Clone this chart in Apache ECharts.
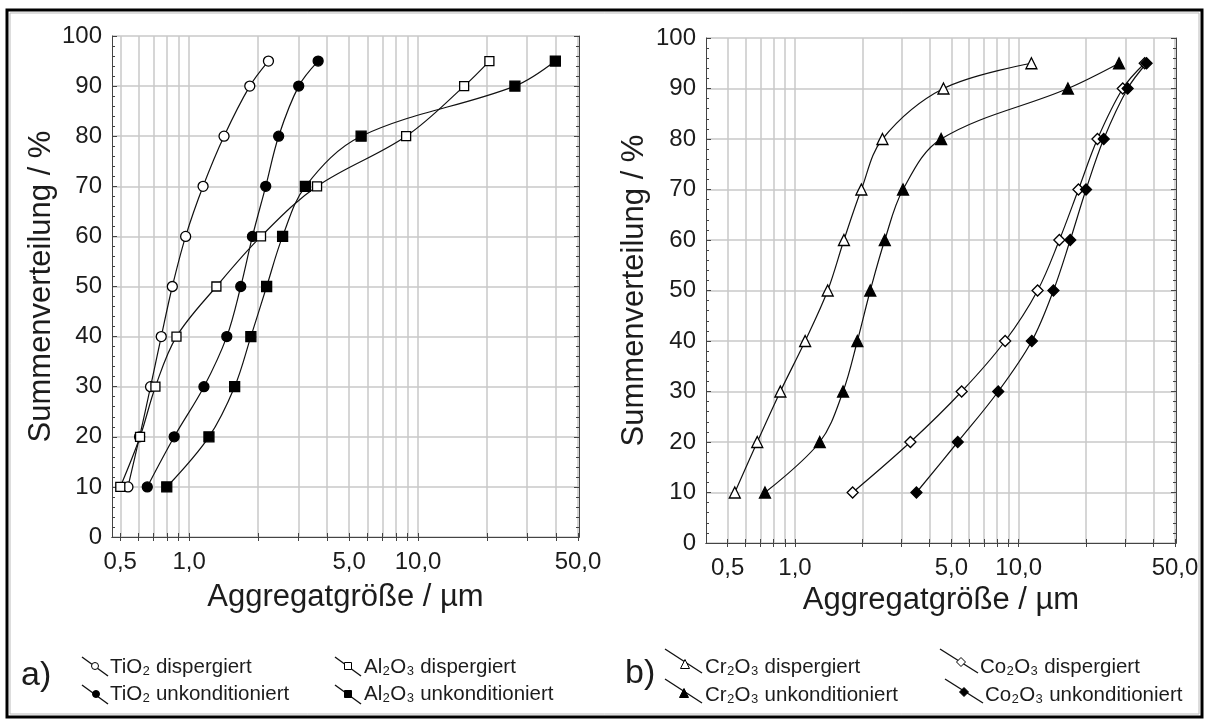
<!DOCTYPE html>
<html>
<head>
<meta charset="UTF-8">
<title>Summenverteilung</title>
<script src="https://cdn.jsdelivr.net/npm/echarts@6/dist/echarts.min.js"></script>
<style>
html, body { margin: 0; padding: 0; background: #fff; }
#chart { width: 1207px; height: 720px; }
</style>
</head>
<body>
<div id="chart"></div>
<script>
// Summenverteilung / % (gleich fuer alle Kurven)
var pct = [10, 20, 30, 40, 50, 60, 70, 80, 90, 95];

// a) Aggregatgroesse / um
var tio2Disp  = [0.54, 0.607, 0.678, 0.755, 0.844, 0.965, 1.15, 1.42, 1.84, 2.22];
var tio2Unk   = [0.656, 0.86, 1.16, 1.46, 1.68, 1.89, 2.16, 2.46, 3.01, 3.66];
var al2o3Disp = [0.50, 0.61, 0.712, 0.88, 1.315, 2.06, 3.62, 8.87, 15.9, 20.5];
var al2o3Unk  = [0.798, 1.22, 1.58, 1.86, 2.18, 2.56, 3.22, 5.64, 26.5, 39.8];

// b) Aggregatgroesse / um
var cr2o3Disp = [0.538, 0.678, 0.86, 1.11, 1.40, 1.655, 1.98, 2.46, 4.61, 11.4];
var cr2o3Unk  = [0.734, 1.29, 1.64, 1.90, 2.17, 2.52, 3.04, 4.50, 16.6, 28.1];
var co2o3Disp = [1.81, 3.28, 5.56, 8.70, 12.15, 15.2, 18.5, 22.5, 29.2, 36.6];
var co2o3Unk  = [3.49, 5.34, 8.10, 11.45, 14.3, 17.0, 20.0, 24.0, 30.7, 37.3];

// Achsen
var xLabelVals = [0.5, 1, 5, 10, 50];
var xGridVals = [0.5, 0.6, 0.7, 0.8, 0.9, 1, 2, 3, 4, 5, 6, 7, 8, 9, 10, 20, 30, 40, 50];

var chart = echarts.init(document.getElementById('chart'));
var font = 'Liberation Sans, Arial, sans-serif';
var txt = '#1c1c1c';

function pairs(xs) {
  return xs.map(function (x, i) { return [x, pct[i]]; });
}

function bottomX(grid, min, gap) {
  return {
    type: 'log', logBase: 10, gridIndex: grid, min: min, max: 50.5,
    name: 'Aggregatgröße / µm', nameLocation: 'middle', nameGap: gap,
    nameTextStyle: { fontFamily: font, fontSize: 31, color: txt },
    axisLine: { show: true, lineStyle: { color: '#444', width: 1 } },
    axisTick: { show: true, inside: true, length: 4, customValues: xGridVals, lineStyle: { color: '#444' } },
    minorTick: { show: false },
    axisLabel: {
      customValues: xLabelVals, margin: 13, fontFamily: font, fontSize: 24, color: txt,
      formatter: function (v) { return (Math.round(v * 10) / 10).toFixed(1).replace('.', ','); }
    },
    splitLine: { show: true, lineStyle: { color: '#c8c8c8', width: 1.5 } }
  };
}

function topX(grid, min) {
  return {
    type: 'log', logBase: 10, gridIndex: grid, min: min, max: 50.5, position: 'top',
    axisLine: { show: true, lineStyle: { color: '#444', width: 1 } },
    axisTick: { show: true, inside: true, length: 4, customValues: xGridVals, lineStyle: { color: '#444' } },
    axisLabel: { show: false },
    splitLine: { show: false }
  };
}

function leftY(grid, gap) {
  return {
    type: 'value', gridIndex: grid, min: 0, max: 100, interval: 10,
    name: 'Summenverteilung / %', nameLocation: 'middle', nameGap: gap,
    nameTextStyle: { fontFamily: font, fontSize: 31, color: txt },
    axisLine: { show: true, lineStyle: { color: '#444', width: 1 } },
    axisTick: { show: true, inside: true, length: 5, lineStyle: { color: '#444' } },
    minorTick: { show: true, splitNumber: 5, length: 3, lineStyle: { color: '#444' } },
    axisLabel: { margin: 10, fontFamily: font, fontSize: 24, color: txt },
    splitLine: { show: true, lineStyle: { color: '#c8c8c8', width: 1.5 } }
  };
}

function rightY(grid) {
  return {
    type: 'value', gridIndex: grid, min: 0, max: 100, interval: 10, position: 'right',
    axisLine: { show: true, lineStyle: { color: '#444', width: 1 } },
    axisTick: { show: true, inside: true, length: 5, lineStyle: { color: '#444' } },
    minorTick: { show: true, splitNumber: 5, length: 3, lineStyle: { color: '#444' } },
    axisLabel: { show: false },
    splitLine: { show: false }
  };
}

function curve(name, xs, axis, symbol, size, filled) {
  return {
    name: name, type: 'line', xAxisIndex: axis, yAxisIndex: axis,
    data: pairs(xs), smooth: 0.35, symbol: symbol, symbolSize: size,
    showAllSymbol: true, animation: false,
    lineStyle: { color: '#111', width: 1.2 },
    itemStyle: { color: filled ? '#000' : '#fff', borderColor: '#000', borderWidth: 1.3 }
  };
}

// Legende: schraeger Strich + Symbol + Text
function legendItem(x1, y1, x2, y2, mx, my, shape, size, filled, label, tx, ty) {
  var st = { fill: filled ? '#000' : '#fff', stroke: '#000', lineWidth: 1 };
  var mark;
  var h = size / 2;
  if (shape === 'circle') {
    mark = { type: 'circle', shape: { cx: mx, cy: my, r: h }, style: st };
  } else if (shape === 'rect') {
    mark = { type: 'rect', shape: { x: mx - h, y: my - h, width: size, height: size }, style: st };
  } else if (shape === 'triangle') {
    mark = { type: 'polygon', shape: { points: [[mx, my - h], [mx + h, my + h], [mx - h, my + h]] }, style: st };
  } else {
    mark = { type: 'polygon', shape: { points: [[mx, my - h], [mx + h, my], [mx, my + h], [mx - h, my]] }, style: st };
  }
  return [
    { type: 'line', shape: { x1: x1, y1: y1, x2: x2, y2: y2 }, style: { stroke: '#111', lineWidth: 1.4 } },
    mark,
    { type: 'text', x: tx, y: ty, style: { text: label, fontFamily: font, fontSize: 20.5, fill: txt, verticalAlign: 'middle' } }
  ];
}

var graphics = [
  { type: 'rect', shape: { x: 7, y: 10, width: 1195, height: 707 }, style: { fill: 'none', stroke: '#000', lineWidth: 3 } },
  { type: 'rect', shape: { x: 10, y: 13, width: 1189, height: 701 }, style: { fill: 'none', stroke: '#bbb', lineWidth: 1 } },
  { type: 'text', x: 21, y: 676, style: { text: 'a)', fontFamily: font, fontSize: 34, fill: txt, verticalAlign: 'middle' } },
  { type: 'text', x: 625, y: 674, style: { text: 'b)', fontFamily: font, fontSize: 34, fill: txt, verticalAlign: 'middle' } }
]
  .concat(legendItem(82, 657, 108, 676, 95, 666, 'circle', 7, false, 'TiO₂ dispergiert', 110, 667))
  .concat(legendItem(82, 685, 108, 704, 96, 694, 'circle', 7, true, 'TiO₂ unkonditioniert', 110, 694))
  .concat(legendItem(335, 657, 361, 676, 348, 666, 'rect', 7, false, 'Al₂O₃ dispergiert', 364, 667))
  .concat(legendItem(335, 685, 361, 704, 348, 694, 'rect', 7, true, 'Al₂O₃ unkonditioniert', 364, 694))
  .concat(legendItem(665, 649, 702, 673, 685, 664, 'triangle', 9, false, 'Cr₂O₃ dispergiert', 705, 667))
  .concat(legendItem(665, 679, 702, 703, 684, 693, 'triangle', 9, true, 'Cr₂O₃ unkonditioniert', 705, 695))
  .concat(legendItem(940, 649, 978, 673, 961, 662, 'diamond', 9, false, 'Co₂O₃ dispergiert', 980, 667))
  .concat(legendItem(945, 679, 983, 703, 964, 692, 'diamond', 9, true, 'Co₂O₃ unkonditioniert', 985, 695));

var option = {
  backgroundColor: '#fff',
  animation: false,
  grid: [
    { left: 112, top: 36, width: 467, height: 501, show: false },
    { left: 706, top: 38, width: 470, height: 505, show: false }
  ],
  xAxis: [bottomX(0, 0.46, 45), bottomX(1, 0.40, 39), topX(0, 0.46), topX(1, 0.40)],
  yAxis: [leftY(0, 55), leftY(1, 56), rightY(0), rightY(1)],
  series: [
    curve('TiO₂ dispergiert', tio2Disp, 0, 'circle', 10, false),
    curve('TiO₂ unkonditioniert', tio2Unk, 0, 'circle', 10, true),
    curve('Al₂O₃ dispergiert', al2o3Disp, 0, 'rect', 9, false),
    curve('Al₂O₃ unkonditioniert', al2o3Unk, 0, 'rect', 10, true),
    curve('Cr₂O₃ dispergiert', cr2o3Disp, 1, 'triangle', 11, false),
    curve('Cr₂O₃ unkonditioniert', cr2o3Unk, 1, 'triangle', 11, true),
    curve('Co₂O₃ dispergiert', co2o3Disp, 1, 'diamond', 11, false),
    curve('Co₂O₃ unkonditioniert', co2o3Unk, 1, 'diamond', 11, true)
  ],
  graphic: graphics
};

chart.setOption(option);
</script>
</body>
</html>
